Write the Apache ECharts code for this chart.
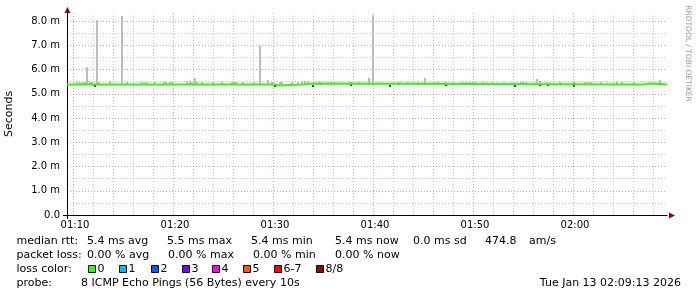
<!DOCTYPE html>
<html><head><meta charset="utf-8">
<script src="https://cdn.jsdelivr.net/npm/echarts@6/dist/echarts.min.js"></script>
<style>html,body{margin:0;padding:0;background:#fff}#c{width:697px;height:297px}</style>
</head><body><div id="c"></div>
<script>
// ---------- data ----------
const startTime = '01:09:24';
const endTime = '02:09:24';
const xTickLabels = ['01:10', '01:20', '01:30', '01:40', '01:50', '02:00'];
const yTickValues = [0, 1, 2, 3, 4, 5, 6, 7, 8];
const yMax = 8.33;

// median rtt (ms); each value holds from its time until the next entry
const medianTimes  = ['01:09:24', '01:30:12', '01:30:30', '01:33:00', '01:34:00', '02:07:06', '02:07:36'];
const medianValues = [5.38, 5.34, 5.38, 5.42, 5.38, 5.42, 5.38];

// light smoke: top of ping spread above the median (ms)
const smokeTimes = ['01:10:24','01:10:42','01:11:00','01:11:12','01:11:24','01:11:42','01:11:54','01:12:24','01:12:36','01:13:42',
  '01:14:54','01:15:24','01:16:48','01:17:06','01:17:24','01:18:12','01:19:06','01:19:18','01:19:42','01:19:54',
  '01:21:24','01:21:42','01:21:54','01:22:12','01:22:24','01:22:54','01:24:00','01:24:54','01:25:54','01:26:06',
  '01:26:18','01:27:00','01:28:06','01:28:42','01:29:30','01:29:54','01:30:42','01:30:54','01:31:54','01:32:30',
  '01:32:54','01:33:12','01:33:30','01:34:36','01:34:48','01:35:48','01:37:48','01:38:36','01:39:36','01:40:00',
  '01:42:36','01:43:30','01:44:30','01:45:12','01:46:12','01:46:30','01:47:12','01:48:00','01:48:54','01:49:18',
  '01:49:36','01:49:54','01:50:18','01:51:00','01:52:00','01:53:06','01:54:48','01:55:00','01:55:18','01:56:24',
  '01:56:42','01:57:24','01:58:42','02:00:06','02:01:12','02:01:30','02:01:48','02:02:48','02:04:24','02:04:54',
  '02:06:06','02:08:42'];
const smokeTops = [5.49,5.50,5.50,5.49,6.10,5.50,5.49,8.04,5.49,5.53,
  8.22,5.50,5.50,5.49,5.48,5.50,5.49,5.48,5.50,5.49,
  5.51,5.51,5.50,5.64,5.50,5.50,5.48,5.49,5.49,5.48,
  5.49,5.48,5.49,6.97,5.55,5.49,5.50,5.49,5.49,5.48,
  5.51,5.52,5.51,5.50,5.49,5.49,5.50,5.48,5.63,8.24,
  5.50,5.48,5.49,5.64,5.50,5.49,5.50,5.49,5.48,5.49,
  5.50,5.50,5.49,5.48,5.49,5.50,5.50,5.49,5.49,5.60,
  5.51,5.49,5.49,5.52,5.49,5.50,5.50,5.48,5.49,5.50,
  5.49,5.56];

// dark smoke: pings just below the median (ms)
const darkTimes = ['01:12:12','01:30:12','01:34:00','01:37:48','01:41:42','01:47:18','01:54:12','01:56:42','01:57:30','02:00:06'];
const darkLows  = [5.29, 5.27, 5.29, 5.30, 5.29, 5.30, 5.29, 5.30, 5.30, 5.27];
const darkHighs = [5.38, 5.36, 5.38, 5.40, 5.38, 5.40, 5.38, 5.40, 5.38, 5.46];

// legend texts
const medianStats = ['5.4 ms avg', '5.5 ms max', '5.4 ms min', '5.4 ms now', '0.0 ms sd', '474.8', 'am/s'];
const lossStats = ['0.00 % avg', '0.00 % max', '0.00 % min', '0.00 % now'];
const lossLabels = ['0', '1', '2', '3', '4', '5', '6-7', '8/8'];
const lossColors = ['#26ff00', '#00b8ff', '#0059ff', '#7e00ff', '#ff00ff', '#ff5500', '#ff0000', '#a10000'];
const probeText = '8 ICMP Echo Pings (56 Bytes) every 10s';
const dateText = 'Tue Jan 13 02:09:13 2026';
const creditText = 'RRDTOOL / TOBI OETIKER';

// ---------- helpers ----------
const toMin = s => { const p = s.split(':').map(Number); return p[0] * 60 + p[1] + (p[2] || 0) / 60; };
const pad = n => (n < 10 ? '0' : '') + n;
const fmtTime = v => { const h = Math.floor(v / 60 + 1e-9); const m = Math.round(v - h * 60); return pad(h) + ':' + pad(m); };
const medianAt = t => { let v = medianValues[0]; for (let i = 0; i < medianTimes.length; i++) if (toMin(medianTimes[i]) <= t + 1e-9) v = medianValues[i]; return v; };

const xMin = toMin(startTime), xMax = toMin(endTime);
const xMajor = xTickLabels.map(toMin);
const xMinor = [];
for (let m = Math.ceil(xMin / 2) * 2; m <= xMax; m += 2) if (m % 10 !== 0) xMinor.push(m);
const yMajor = yTickValues;
const yMinor = [];
for (let v = 0.5; v < yMax; v += 1) yMinor.push(v);

const FONT = 'DejaVu Sans';
const binMin = 0.2;

function barItem(color) {
  return function (params, api) {
    const t = api.value(0), lo = api.value(1), hi = api.value(2);
    const pTop = api.coord([t, hi]);
    const pBot = api.coord([t, lo]);
    const w = Math.max(1, Math.round(api.size([binMin, 0])[0]));
    const x = Math.round(pTop[0] - w / 2);
    return { type: 'rect', shape: { x: x, y: Math.round(pTop[1]), width: w, height: Math.max(1, Math.round(pBot[1]) - Math.round(pTop[1])) }, style: { fill: color } };
  };
}

const smokeData = smokeTimes.map((t, i) => [toMin(t), medianAt(toMin(t)), smokeTops[i]]);
const darkData = darkTimes.map((t, i) => [toMin(t), darkLows[i], darkHighs[i]]);
// step path for the median line: each value is held until the next change
const medianData = [];
medianTimes.forEach((t, i) => {
  const tEnd = i + 1 < medianTimes.length ? toMin(medianTimes[i + 1]) : xMax;
  medianData.push([toMin(t), medianValues[i]], [tEnd, medianValues[i]]);
});

// ---------- legend graphics ----------
const G = [];
const txt = (x, y, s, extra) => G.push({ type: 'text', x: x, y: y, style: Object.assign({ text: s, font: '11px "' + FONT + '"', fill: '#000', textVerticalAlign: 'middle' }, extra || {}) });
const row1 = 241, row2 = 255.5, row3 = 269.5, row4 = 283.5;
txt(16.5, row1, 'median rtt:');
[87, 167, 251, 335, 413, 485, 529].forEach((x, i) => txt(x, row1, medianStats[i]));
txt(16.5, row2, 'packet loss:');
[87, 168, 253, 335].forEach((x, i) => txt(x, row2, lossStats[i]));
txt(16.5, row3, 'loss color:');
[88, 119, 151, 182, 212, 243, 274, 316].forEach((x, i) => {
  G.push({ type: 'rect', shape: { x: x + 0.5, y: 265.5, width: 7, height: 7 }, style: { fill: lossColors[i], stroke: '#000', lineWidth: 1 } });
  txt(x + 9.5, row3, lossLabels[i]);
});
txt(16.5, row4, 'probe:');
txt(81, row4, probeText);
txt(681, row4, dateText, { textAlign: 'right' });
G.push({ type: 'text', x: 688, y: 53.5, rotation: -Math.PI / 2, style: { text: creditText, font: '7.5px "' + FONT + '"', fill: '#999', textAlign: 'center', textVerticalAlign: 'middle' } });
// axis arrow heads and axis overhangs
G.push({ type: 'line', shape: { x1: 63, y1: 215.5, x2: 67, y2: 215.5 }, style: { stroke: '#000', lineWidth: 1 } });
G.push({ type: 'line', shape: { x1: 67.5, y1: 215, x2: 67.5, y2: 219 }, style: { stroke: '#000', lineWidth: 1 } });
G.push({ type: 'line', shape: { x1: 67.5, y1: 13, x2: 67.5, y2: 9 }, style: { stroke: '#000', lineWidth: 1 } });
G.push({ type: 'polygon', shape: { points: [[67.5, 7], [64.5, 13], [70.5, 13]] }, style: { fill: '#a00000' } });
G.push({ type: 'polygon', shape: { points: [[675, 215.5], [669, 212.5], [669, 218.5]] }, style: { fill: '#a00000' } });

// ---------- chart ----------
const chart = echarts.init(document.getElementById('c'), null, { renderer: 'canvas' });
const majorLine = { show: true, lineStyle: { color: 'rgba(220,50,50,0.5)', width: 1, type: [1, 2] } };
const minorLine = { show: true, lineStyle: { color: 'rgba(0,0,0,0.22)', width: 1, type: [1, 2] } };
chart.setOption({
  animation: false,
  backgroundColor: '#fff',
  textStyle: { fontFamily: FONT },
  grid: { left: 67, right: 30, top: 13, bottom: 82, containLabel: false, outerBoundsMode: 'none' },
  xAxis: [
    { type: 'value', min: xMin, max: xMax,
      axisLine: { show: true, onZero: false, lineStyle: { color: '#000', width: 1 } },
      axisTick: { show: false, customValues: xMajor },
      axisLabel: { customValues: xMajor, formatter: fmtTime, color: '#000', fontSize: 10, fontFamily: FONT, margin: 5, padding: [0, 0, 0, 4] },
      splitLine: majorLine },
    { type: 'value', min: xMin, max: xMax, position: 'top',
      axisLine: { show: false }, axisTick: { show: false, customValues: xMinor },
      axisLabel: { show: false, customValues: xMinor }, splitLine: minorLine }
  ],
  yAxis: [
    { type: 'value', min: 0, max: yMax,
      name: 'Seconds', nameLocation: 'middle', nameGap: 52, nameRotate: 90,
      nameTextStyle: { color: '#000', fontSize: 11, fontFamily: FONT },
      axisLine: { show: true, onZero: false, lineStyle: { color: '#000', width: 1 } },
      axisTick: { show: false, customValues: yMajor },
      axisLabel: { customValues: yMajor, formatter: v => (v === 0 ? '0.0' : v.toFixed(1) + ' m'), color: '#000', fontSize: 10, fontFamily: FONT, margin: 7 },
      splitLine: majorLine },
    { type: 'value', min: 0, max: yMax, position: 'right',
      axisLine: { show: false }, axisTick: { show: false, customValues: yMinor },
      axisLabel: { show: false, customValues: yMinor }, splitLine: minorLine }
  ],
  series: [
    { type: 'custom', name: 'smoke', data: smokeData, renderItem: barItem('#bdbdbd'), encode: { x: 0, y: [1, 2] }, z: 2 },
    { type: 'custom', name: 'smoke-dark', data: darkData, renderItem: barItem('#454545'), encode: { x: 0, y: [1, 2] }, z: 3 },
    { type: 'line', name: 'median rtt', data: medianData, showSymbol: false, symbol: 'none',
      lineStyle: { color: lossColors[0], width: 2 }, z: 4 }
  ],
  graphic: G
});
</script>
</body></html>
